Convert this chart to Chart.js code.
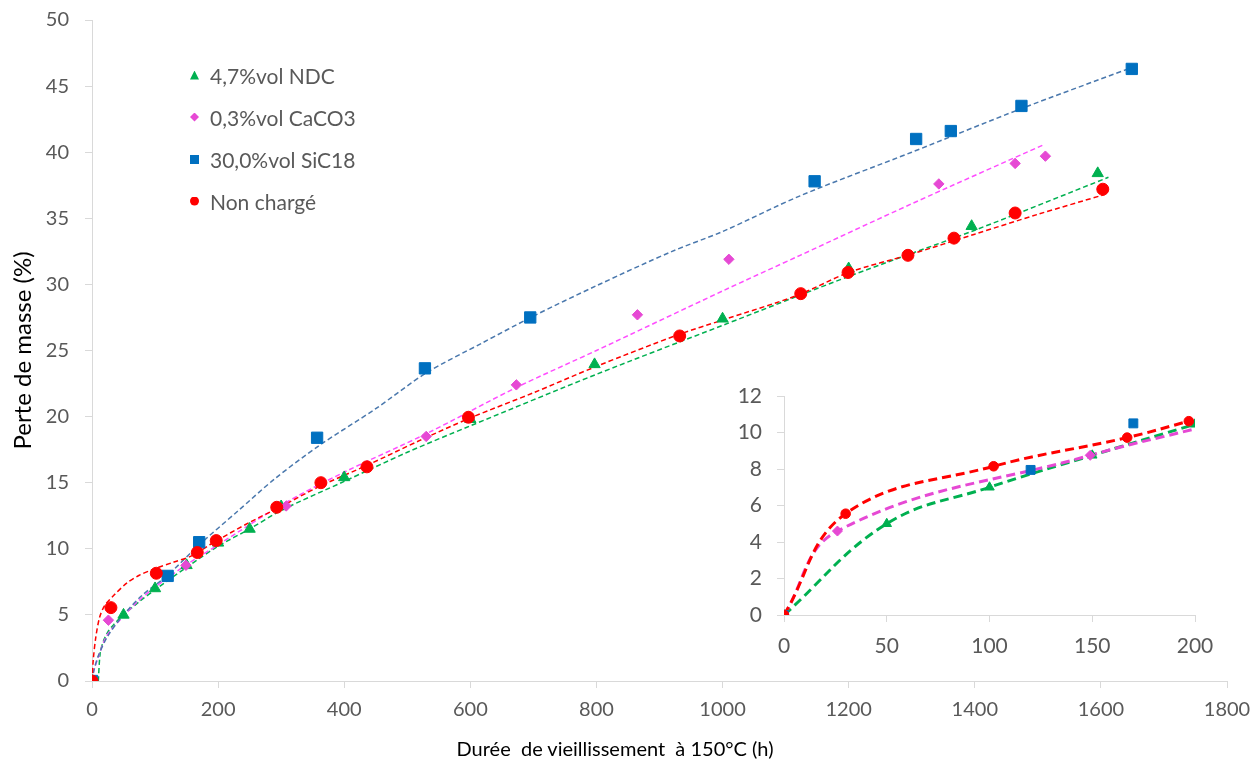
<!DOCTYPE html>
<html>
<head>
<meta charset="utf-8">
<script src="https://cdn.jsdelivr.net/npm/chart.js@4.4.1/dist/chart.umd.min.js"></script>
<style>
  body { margin: 0; background: #fff; font-family: Lato, sans-serif; }
  #wrap { position: relative; width: 1251px; height: 762px; }
  #mainChart { position: absolute; left: 0; top: 0; }
  #insetChart { position: absolute; left: 730px; top: 380px; }
  .legend { position: absolute; left: 190px; top: 60px; }
  .legend-item { position: absolute; left: 0; height: 30px; display: flex; align-items: center; white-space: nowrap;
                 font-size: 21px; color: #595959; }
  .legend-mark { width: 9px; height: 9px; margin-right: 11px; }
  .xtitle { position: absolute; left: 415px; width: 400px; top: 736px; text-align: center; white-space: pre;
            font-size: 20px; color: #000; }
</style>
</head>
<body>
<div id="wrap">
  <canvas id="mainChart" width="1251" height="762"></canvas>
  <canvas id="insetChart" width="500" height="290"></canvas>
  <div class="legend" id="legend"></div>
  <div class="xtitle">Durée  de vieillissement  à 150°C (h)</div>
</div>
<script>
// measured points (hours, % mass loss)
const ndcX = [0, 50, 100, 150, 200, 250, 300, 400, 600, 797, 1000, 1200, 1395, 1595];
const ndcY = [0, 5.0, 7.0, 8.75, 10.45, 11.5, 13.2, 15.4, 19.8, 23.95, 27.4, 31.2, 34.4, 38.4];

const cacoX = [0, 26, 149, 308, 530, 673, 865, 1010, 1343, 1464, 1512];
const cacoY = [0, 4.6, 8.75, 13.24, 18.5, 22.4, 27.7, 31.9, 37.6, 39.15, 39.7];

const sicX = [0, 120, 170, 357, 528, 695, 1146, 1307, 1362, 1474, 1649];
const sicY = [0, 7.95, 10.5, 18.4, 23.65, 27.5, 37.8, 41.0, 41.6, 43.5, 46.3];

const nonX = [0, 30, 102, 167, 197, 293, 363, 436, 597, 932, 1124, 1199, 1294, 1367, 1464, 1603];
const nonY = [0, 5.55, 8.15, 9.72, 10.62, 13.14, 15.0, 16.2, 19.95, 26.1, 29.3, 30.9, 32.2, 33.5, 35.4, 37.2];

// trend curves of the main chart
const trendNdcX = [10, 13, 18, 25, 35, 50, 75, 100, 150, 200, 250, 300, 400, 500, 600, 800, 1000, 1200, 1400, 1612];
const trendNdcY = [0, 2.1, 3.0, 3.7, 4.3, 5.0, 6.0, 6.9, 8.6, 10.2, 11.5, 12.9, 15.1, 17.3, 19.3, 23.2, 26.9, 30.6, 34.1, 38.1];

const trendCacoX = [0, 3, 10, 23, 44, 70, 100, 150, 200, 300, 400, 530, 673, 800, 1000, 1123, 1300, 1511];
const trendCacoY = [0, 0.8, 1.8, 3.4, 4.6, 5.9, 7.1, 8.8, 10.3, 13.3, 15.8, 18.7, 22.2, 25.0, 29.5, 32.2, 36.1, 40.6];

const trendSicX = [0, 3, 10, 25, 50, 80, 120, 170, 230, 290, 360, 450, 530, 620, 700, 800, 920, 1000, 1123, 1300, 1474, 1643];
const trendSicY = [0, 0.8, 1.9, 3.4, 5.0, 6.5, 8.0, 10.3, 12.8, 15.3, 17.8, 20.6, 23.3, 25.6, 27.6, 29.9, 32.5, 34.0, 36.7, 40.0, 43.3, 46.3];

const trendNonX = [0, 2, 6, 12, 20, 35, 55, 75, 100, 130, 160, 190, 250, 300, 360, 440, 520, 600, 700, 800, 930, 1000, 1120, 1200, 1300, 1400, 1500, 1606];
const trendNonY = [0, 1.6, 3.3, 4.8, 5.7, 6.5, 7.4, 8.0, 8.5, 9.0, 9.5, 10.4, 12.0, 13.2, 14.7, 16.4, 18.2, 19.9, 21.8, 23.8, 26.2, 27.3, 29.2, 30.9, 32.3, 33.8, 35.3, 36.8];

// inset: end of the CaCO3 curve (no marker)
const insetCacoEndX = [200];
const insetCacoEndY = [10.2];

const seriesNames = ['4,7%vol NDC', '0,3%vol CaCO3', '30,0%vol SiC18', 'Non chargé'];
const markerColors = ['#00B050', '#E649D4', '#0070C0', '#FF0000'];
const trendColors = ['#00B050', '#FF4DFF', '#4A78AD', '#FF0000'];
const insetLineColors = ['#00B050', '#E649D4', null, '#FF0000'];
const shapes = ['triangle', 'rectRot', 'rect', 'circle'];

const mainX = [0, 1800, 200];
const mainY = [0, 50, 5];
const insetXTicks = [0, 200, 50];
const insetYTicks = [0, 12, 2];

function pts(xs, ys) {
    return xs.map((x, i) => ({ x: x, y: ys[i] }));
}

const markerSets = [pts(ndcX, ndcY), pts(cacoX, cacoY), pts(sicX, sicY), pts(nonX, nonY)];
const trendSets = [pts(trendNdcX, trendNdcY), pts(trendCacoX, trendCacoY), pts(trendSicX, trendSicY), pts(trendNonX, trendNonY)];

const mainRadius = [6.5, 5.2, 8, 6];
const insetRadius = [5.5, 5, 6.3, 4.8];

const tickFont = { family: 'Lato', size: 20 };
const axisGray = '#D9D9D9';
const textGray = '#595959';
const plain = v => String(v);

// tick padding also pads the chart area in Chart.js, undo that here
function fitX(height) {
    return s => { s.height = height; s.paddingLeft = 6; s.paddingRight = 22; };
}
function fitY(width) {
    return s => { s.width = width; s.paddingTop = 12; s.paddingBottom = 12; };
}

// markers first in the list so they are drawn over the trend curves; red on top
const mainDatasets = [];
for (let i = 3; i >= 0; i--) {
    mainDatasets.push({
        label: seriesNames[i],
        data: markerSets[i],
        showLine: false,
        pointStyle: shapes[i],
        pointRadius: mainRadius[i],
        pointBackgroundColor: markerColors[i],
        pointBorderColor: markerColors[i],
        pointBorderWidth: 1
    });
}
for (let i = 3; i >= 0; i--) {
    mainDatasets.push({
        label: seriesNames[i] + ' (tendance)',
        data: trendSets[i],
        showLine: true,
        pointRadius: 0,
        borderColor: trendColors[i],
        borderWidth: 1.5,
        borderDash: [5, 3],
        tension: 0.3
    });
}

new Chart(document.getElementById('mainChart'), {
    type: 'scatter',
    data: { datasets: mainDatasets },
    options: {
        responsive: false,
        animation: false,
        layout: { padding: { top: 20, right: 24, bottom: 0, left: 0 } },
        plugins: { legend: { display: false }, tooltip: { enabled: false } },
        scales: {
            x: {
                type: 'linear', min: mainX[0], max: mainX[1],
                ticks: { stepSize: mainX[2], color: textGray, font: tickFont, padding: 10, maxRotation: 0, callback: plain },
                grid: { drawOnChartArea: false, tickLength: 7, color: axisGray },
                border: { color: axisGray },
                afterFit: fitX(81)
            },
            y: {
                type: 'linear', min: mainY[0], max: mainY[1],
                ticks: { stepSize: mainY[2], color: textGray, font: tickFont, padding: 16, callback: plain },
                grid: { drawOnChartArea: false, tickLength: 7, color: axisGray },
                border: { color: axisGray },
                title: { display: true, text: 'Perte de masse (%)', color: '#000', font: { family: 'Lato', size: 24 }, padding: { top: 9, bottom: 0 } },
                afterFit: fitY(92)
            }
        }
    }
});

// inset: zoom on the first 200 h
const insetDatasets = [];
for (let i = 3; i >= 0; i--) {
    insetDatasets.push({
        label: seriesNames[i],
        data: markerSets[i].filter(p => p.x <= 200),
        showLine: false,
        pointStyle: shapes[i],
        pointRadius: insetRadius[i],
        pointBackgroundColor: markerColors[i],
        pointBorderColor: markerColors[i],
        pointBorderWidth: 1
    });
}
const insetLines = [
    markerSets[0].filter(p => p.x <= 200),
    markerSets[1].filter(p => p.x <= 200).concat(pts(insetCacoEndX, insetCacoEndY)),
    null,
    markerSets[3].filter(p => p.x <= 200)
];
for (let i = 3; i >= 0; i--) {
    if (!insetLines[i]) continue;
    insetDatasets.push({
        label: seriesNames[i] + ' (courbe)',
        data: insetLines[i],
        showLine: true,
        pointRadius: 0,
        borderColor: insetLineColors[i],
        borderWidth: 3,
        borderDash: [9, 5],
        tension: 0.4
    });
}

new Chart(document.getElementById('insetChart'), {
    type: 'scatter',
    data: { datasets: insetDatasets },
    options: {
        responsive: false,
        animation: false,
        layout: { padding: { top: 16, right: 35, bottom: 0, left: 0 } },
        plugins: { legend: { display: false }, tooltip: { enabled: false } },
        scales: {
            x: {
                type: 'linear', min: insetXTicks[0], max: insetXTicks[1],
                ticks: { stepSize: insetXTicks[2], color: textGray, font: { family: 'Lato', size: 21 }, padding: 12, maxRotation: 0 },
                grid: { drawOnChartArea: false, tickLength: 7, color: axisGray },
                border: { color: axisGray },
                afterFit: fitX(55)
            },
            y: {
                type: 'linear', min: insetYTicks[0], max: insetYTicks[1],
                ticks: { stepSize: insetYTicks[2], color: textGray, font: { family: 'Lato', size: 21 }, padding: 15 },
                grid: { drawOnChartArea: false, tickLength: 7, color: axisGray },
                border: { color: axisGray },
                afterFit: fitY(54)
            }
        }
    }
});

// legend inside the plot area
const legend = document.getElementById('legend');
const clips = {
    triangle: 'polygon(50% 0, 100% 100%, 0 100%)',
    rectRot: 'polygon(50% 0, 100% 50%, 50% 100%, 0 50%)',
    rect: 'none',
    circle: 'circle(50% at 50% 50%)'
};
seriesNames.forEach((name, i) => {
    const item = document.createElement('div');
    item.className = 'legend-item';
    item.style.top = (i * 42) + 'px';
    const mark = document.createElement('div');
    mark.className = 'legend-mark';
    mark.style.background = markerColors[i];
    mark.style.clipPath = clips[shapes[i]];
    const label = document.createElement('span');
    label.textContent = name;
    item.appendChild(mark);
    item.appendChild(label);
    legend.appendChild(item);
});
</script>
</body>
</html>
